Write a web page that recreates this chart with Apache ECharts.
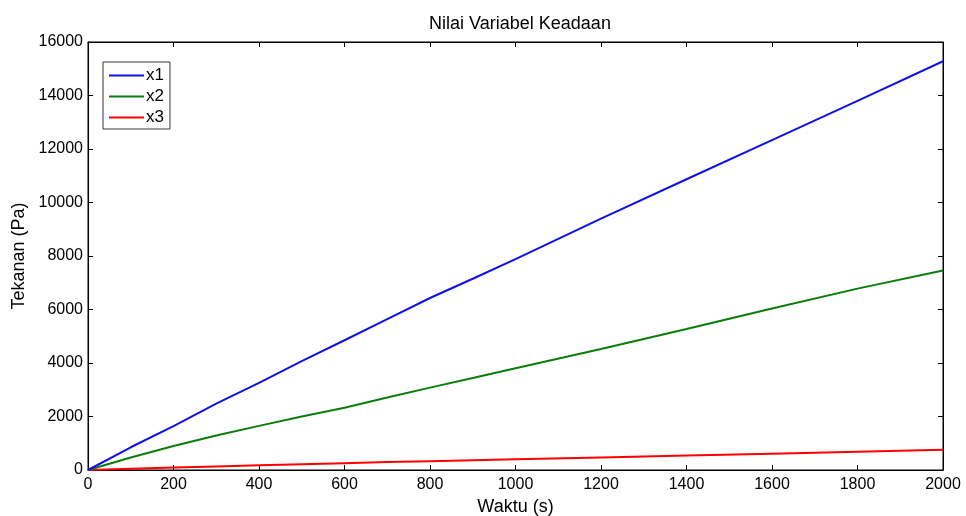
<!DOCTYPE html>
<html>
<head>
<meta charset="utf-8">
<script src="https://cdn.jsdelivr.net/npm/echarts@6/dist/echarts.min.js"></script>
<style>
    html, body { margin: 0; padding: 0; background: #fff; }
    #chart { width: 966px; height: 516px; }
</style>
</head>
<body>
<div id="chart"></div>
<script>
const waktu = [0, 100, 200, 300, 400, 500, 600, 700, 800, 900, 1000, 1200, 1400, 1600, 1800, 2000]
const x1 = [0, 850, 1640, 2480, 3260, 4070, 4850, 5640, 6430, 7150, 7880, 9400, 10870, 12330, 13800, 15280]
const x2 = [0, 470, 900, 1290, 1650, 2000, 2330, 2710, 3080, 3440, 3800, 4520, 5270, 6040, 6780, 7460]
const x3 = [0, 50, 95, 135, 175, 215, 255, 295, 330, 365, 400, 470, 540, 610, 680, 755]

const seriesNames = ['x1', 'x2', 'x3']
const seriesColors = ['#1010e8', '#0a7d0a', '#ff0000']

const myChart = echarts.init(document.getElementById('chart'))

const font = 'Liberation Sans, Arial, sans-serif'

const toPairs = ys => waktu.map((t, i) => [t, ys[i]])

// MATLAB style box: ticks pointing inward on all four sides
const boxAxis = (extra) => Object.assign({
    type: 'value',
    axisLine: { show: true, onZero: false, lineStyle: { color: '#000', width: 1 } },
    axisTick: { show: true, inside: true, length: 5, lineStyle: { color: '#000', width: 1 } },
    splitLine: { show: false }
}, extra)

const tickLabel = { show: true, color: '#000', fontSize: 16, fontFamily: font, formatter: v => String(v) }

const option = {
    animation: false,
    backgroundColor: '#ffffff',
    textStyle: { fontFamily: font },
    title: {
        text: 'Nilai Variabel Keadaan',
        left: 515,
        top: 10,
        textAlign: 'center',
        textStyle: { fontFamily: font, fontSize: 18, fontWeight: 'normal', color: '#000' }
    },
    legend: {
        data: seriesNames,
        orient: 'vertical',
        left: 103,
        top: 62,
        backgroundColor: '#fff',
        borderColor: '#333',
        borderWidth: 1,
        borderRadius: 0,
        padding: [5, 6, 3, 6],
        itemWidth: 35,
        itemHeight: 2,
        itemGap: 4,
        icon: 'rect',
        textStyle: { fontFamily: font, fontSize: 17, color: '#000', padding: [0, 0, 0, -3] }
    },
    grid: {
        left: 88, right: 23, top: 42, bottom: 46,
        outerBoundsMode: 'none',
        containLabel: false,
        show: true, borderColor: '#000', borderWidth: 1, backgroundColor: 'transparent'
    },
    xAxis: [
        boxAxis({
            min: 0, max: 2000, interval: 200,
            name: 'Waktu (s)',
            nameLocation: 'middle',
            nameGap: 26,
            nameTextStyle: { fontFamily: font, fontSize: 18, color: '#000' },
            axisLabel: Object.assign({ margin: 7 }, tickLabel)
        }),
        boxAxis({
            position: 'top',
            min: 0, max: 2000, interval: 200,
            axisLabel: { show: false }
        })
    ],
    yAxis: [
        boxAxis({
            min: 0, max: 16000, interval: 2000,
            name: 'Tekanan (Pa)',
            nameLocation: 'middle',
            nameGap: 55,
            nameTextStyle: { fontFamily: font, fontSize: 18, color: '#000' },
            axisLabel: Object.assign({ margin: 5 }, tickLabel)
        }),
        boxAxis({
            position: 'right',
            min: 0, max: 16000, interval: 2000,
            axisLabel: { show: false }
        })
    ],
    series: [x1, x2, x3].map((ys, i) => ({
        name: seriesNames[i],
        type: 'line',
        data: toPairs(ys),
        symbol: 'none',
        color: seriesColors[i],
        lineStyle: { color: seriesColors[i], width: 2 }
    })).reverse().concat([{
        // binds the top/right box axes so they get drawn
        type: 'line',
        xAxisIndex: 1,
        yAxisIndex: 1,
        data: [],
        silent: true
    }])
}

myChart.setOption(option)
</script>
</body>
</html>
